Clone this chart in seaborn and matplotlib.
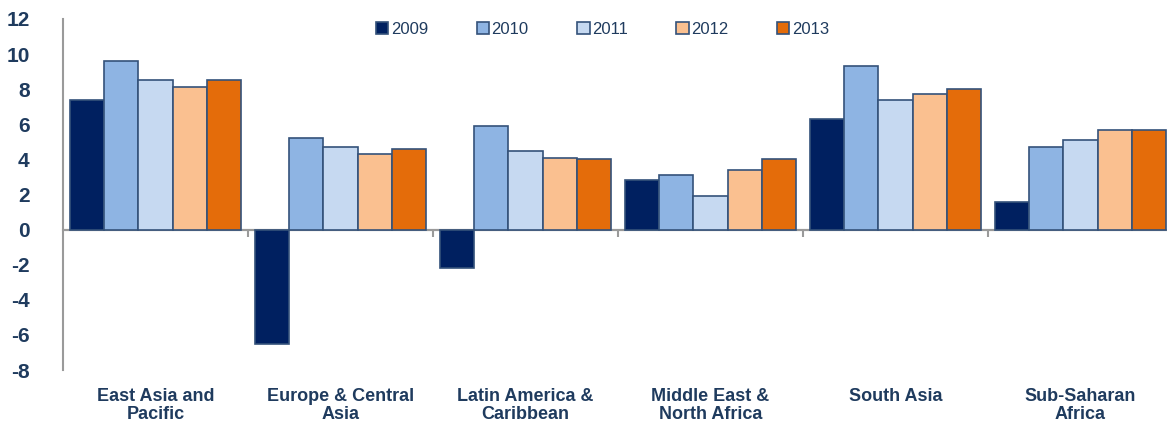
import pandas as pd
import seaborn as sns
import matplotlib.pyplot as plt
import matplotlib.transforms as mtransforms

regions = ['East Asia and\nPacific', 'Europe & Central\nAsia', 'Latin America &\nCaribbean',
           'Middle East &\nNorth Africa', 'South Asia', 'Sub-Saharan\nAfrica']
years = ['2009', '2010', '2011', '2012', '2013']

# growth by region, one list per year
v2009 = [7.4, -6.5, -2.2, 2.8, 6.3, 1.6]
v2010 = [9.6, 5.2, 5.9, 3.1, 9.3, 4.7]
v2011 = [8.5, 4.7, 4.5, 1.9, 7.4, 5.1]
v2012 = [8.1, 4.3, 4.1, 3.4, 7.7, 5.7]
v2013 = [8.5, 4.6, 4.0, 4.0, 8.0, 5.7]

colors = ['#002060', '#8EB4E3', '#C6D9F1', '#FAC090', '#E46C0A']
text_col = '#1F3B5E'

rows = []
for y, vals in zip(years, [v2009, v2010, v2011, v2012, v2013]):
    for r, v in zip(regions, vals):
        rows.append({'region': r, 'year': y, 'value': v})
df = pd.DataFrame(rows)

sns.set_style('white')
plt.rcParams['font.family'] = ['Liberation Sans', 'DejaVu Sans']

fig = plt.figure(figsize=(11.67, 4.22), dpi=100)
ax = fig.add_axes([63 / 1167, 52 / 422, 1110 / 1167, 351 / 422])

sns.barplot(data=df, x='region', y='value', hue='year', palette=colors, saturation=1,
            width=0.925, edgecolor='#34527A', linewidth=1.2, ax=ax)

ax.set_xlim(-0.5, 5.5)
ax.set_ylim(-8, 12)
ax.set_yticks(range(-8, 13, 2))
ax.set_yticklabels([str(t) for t in range(-8, 13, 2)], fontsize=15,
                   fontweight='bold', color=text_col)
ax.tick_params(axis='y', length=0, pad=24)

ax.spines['top'].set_visible(False)
ax.spines['right'].set_visible(False)
ax.spines['bottom'].set_position(('data', 0))
for s in ['left', 'bottom']:
    ax.spines[s].set_color('#9A9A9A')
    ax.spines[s].set_linewidth(1.5)
ax.spines['bottom'].set_zorder(0.8)
ax.axhline(0, color='#9A9A9A', lw=1.5, zorder=0.8)

ax.set_xticks([])
ax.set_xticks([0.5, 1.5, 2.5, 3.5, 4.5, 5.5], minor=True)
ax.tick_params(axis='x', which='minor', bottom=True, direction='out', length=5,
               width=1.5, color='#9A9A9A')
ax.set_xlabel('')
ax.set_ylabel('')

trans = mtransforms.blended_transform_factory(ax.transData, ax.transAxes)
for i, r in enumerate(regions):
    ax.text(i, -0.052, r, transform=trans, ha='center', va='top',
            fontsize=13, fontweight='bold', color=text_col, linespacing=1.05)

ax.legend(loc='upper center', bbox_to_anchor=(0.486, 1.035), ncol=5, frameon=False,
          fontsize=12, handlelength=0.75, handleheight=0.75, handletextpad=0.15,
          columnspacing=2.9, labelcolor=text_col)

fig.savefig('out.png', dpi=100)
